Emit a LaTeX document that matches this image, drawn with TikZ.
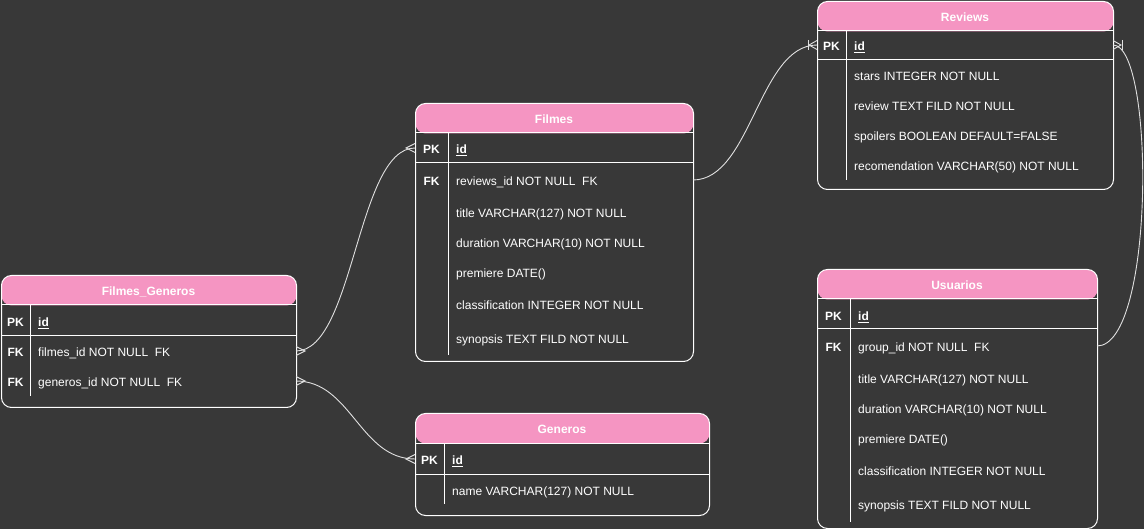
\documentclass[tikz,border=0pt]{standalone}
\usepackage{fontspec}
\setmainfont{Liberation Sans}
\usetikzlibrary{calc}
\definecolor{bg}{HTML}{383838}
\definecolor{hdr}{HTML}{F595C2}
\tikzset{
  tbl/.style={draw=white, line width=1pt, rounded corners=10pt, fill=bg, inner sep=0pt, anchor=north west,
    path picture={\fill[hdr] (path picture bounding box.north west) rectangle ([yshift=-30pt]path picture bounding box.north east);}},
  grid/.style={draw=white, line width=1pt},
  hd/.style={text=white, font=\fontsize{12}{14}\selectfont\bfseries, anchor=base, inner sep=0pt, yshift=-1pt},
  keylbl/.style={text=white, font=\fontsize{12}{14}\selectfont\bfseries, anchor=base, inner sep=0pt, yshift=-1pt},
  fld/.style={text=white, font=\fontsize{12}{14}\selectfont, anchor=base west, inner sep=0pt, yshift=-1pt},
  conn/.style={draw=white!88!black, line width=0.9pt},
  pics/crowL/.style={code={\draw[conn] (0,-4.5) -- (-9,0) -- (0,4.5);}},
  pics/crowR/.style={code={\draw[conn] (0,-4.5) -- (9,0) -- (0,4.5);}},
  pics/crowbarL/.style={code={\draw[conn] (0,-4.5) -- (-8,0) -- (0,4.5); \draw[conn] (-9,-5) -- (-9,5);}},
  pics/crowbarR/.style={code={\draw[conn] (0,-4.5) -- (8,0) -- (0,4.5); \draw[conn] (9,-5) -- (9,5);}},
}
\begin{document}
\begin{tikzpicture}[x=1pt,y=-1pt]
\fill[bg] (0,0) rectangle (1144,529);
\useasboundingbox (0,0) rectangle (1144,529);

% ---------- Filmes ----------
\node[tbl, minimum width=278pt, minimum height=258pt] (filmes) at (415,103) {};
\draw[grid] (415,133) -- (693,133) (415,163) -- (693,163) (448,133) -- (448,355);
\node[hd] (f-h) at (554,122.5) {Filmes};
\node[keylbl] (f-k1) at (431.5,152.5) {PK};
\node[keylbl] (f-k2) at (431.5,184.5) {FK};
\node[fld] (f-1) at (456,152.5) {\bfseries\underline{id}};
\node[fld] (f-2) at (456,184.5) {reviews\_id NOT NULL\ \ FK};
\node[fld] (f-3) at (456,216.5) {title VARCHAR(127) NOT NULL};
\node[fld] (f-4) at (456,246.5) {duration VARCHAR(10) NOT NULL};
\node[fld] (f-5) at (456,276.5) {premiere DATE()};
\node[fld] (f-6) at (456,308.5) {classification INTEGER NOT NULL};
\node[fld] (f-7) at (456,342.5) {synopsis TEXT FILD NOT NULL};

% ---------- Reviews ----------
\node[tbl, minimum width=296pt, minimum height=188pt] (reviews) at (817,1) {};
\draw[grid] (817,31) -- (1113,31) (817,60) -- (1113,60) (846,31) -- (846,180);
\node[hd] (r-h) at (965,20.5) {Reviews};
\node[keylbl] (r-k1) at (831.5,49.5) {PK};
\node[fld] (r-1) at (854,49.5) {\bfseries\underline{id}};
\node[fld] (r-2) at (854,79.5) {stars INTEGER NOT NULL};
\node[fld] (r-3) at (854,109.5) {review TEXT FILD NOT NULL};
\node[fld] (r-4) at (854,139.5) {spoilers BOOLEAN DEFAULT=FALSE};
\node[fld] (r-5) at (854,169.5) {recomendation VARCHAR(50) NOT NULL};

% ---------- Filmes_Generos ----------
\node[tbl, minimum width=295pt, minimum height=132pt] (fg) at (1,275) {};
\draw[grid] (1,305) -- (296,305) (1,336) -- (296,336) (30,305) -- (30,396);
\node[hd] (fg-h) at (148.5,294.5) {Filmes\_Generos};
\node[keylbl] (fg-k1) at (15.5,325.5) {PK};
\node[keylbl] (fg-k2) at (15.5,355.5) {FK};
\node[keylbl] (fg-k3) at (15.5,385.5) {FK};
\node[fld] (fg-1) at (38,325.5) {\bfseries\underline{id}};
\node[fld] (fg-2) at (38,355.5) {filmes\_id NOT NULL\ \ FK};
\node[fld] (fg-3) at (38,385.5) {generos\_id NOT NULL\ \ FK};

% ---------- Generos ----------
\node[tbl, minimum width=294pt, minimum height=102pt] (generos) at (415,413) {};
\draw[grid] (415,443) -- (709,443) (415,474) -- (709,474) (444,443) -- (444,504);
\node[hd] (g-h) at (562,432.5) {Generos};
\node[keylbl] (g-k1) at (429.5,463.5) {PK};
\node[fld] (g-1) at (452,463.5) {\bfseries\underline{id}};
\node[fld] (g-2) at (452,494.5) {name VARCHAR(127) NOT NULL};

% ---------- Usuarios ----------
\node[tbl, minimum width=280pt, minimum height=259pt] (usuarios) at (817,269) {};
\draw[grid] (817,299) -- (1097,299) (817,329) -- (1097,329) (850,299) -- (850,522);
\node[hd] (u-h) at (957,288.5) {Usuarios};
\node[keylbl] (u-k1) at (833.5,319.5) {PK};
\node[keylbl] (u-k2) at (833.5,350.5) {FK};
\node[fld] (u-1) at (858,319.5) {\bfseries\underline{id}};
\node[fld] (u-2) at (858,350.5) {group\_id NOT NULL\ \ FK};
\node[fld] (u-3) at (858,382.5) {title VARCHAR(127) NOT NULL};
\node[fld] (u-4) at (858,412.5) {duration VARCHAR(10) NOT NULL};
\node[fld] (u-5) at (858,442.5) {premiere DATE()};
\node[fld] (u-6) at (858,474.5) {classification INTEGER NOT NULL};
\node[fld] (u-7) at (858,508.5) {synopsis TEXT FILD NOT NULL};

% ---------- connector end points ----------
\coordinate (fg-filmes) at (296,351);
\coordinate (fg-generos) at (296,381);
\coordinate (f-pk) at (415,148);
\coordinate (g-pk) at (415,459);
\coordinate (f-rev) at (693,180);
\coordinate (r-pk-l) at (817,45);
\coordinate (r-pk-r) at (1113,45);
\coordinate (u-grp) at (1097,346);

% ---------- connectors ----------
\draw[conn] (fg-filmes) .. controls ($(fg-filmes)+(58,0)$) and ($(f-pk)+(-58,0)$) .. (f-pk);
\draw[conn] (fg-generos) .. controls ($(fg-generos)+(55,0)$) and ($(g-pk)+(-55,0)$) .. (g-pk);
\draw[conn] (f-rev) .. controls ($(f-rev)+(58,0)$) and ($(r-pk-l)+(-58,0)$) .. (r-pk-l);
\draw[conn] (r-pk-r) .. controls ($(r-pk-r)+(42,0)$) and ($(u-grp)+(58,0)$) .. (u-grp);

\pic at (fg-filmes) {crowR};
\pic at (fg-generos) {crowR};
\pic at (f-pk) {crowL};
\pic at (g-pk) {crowL};
\pic at (r-pk-l) {crowbarL};
\pic at (r-pk-r) {crowbarR};
\end{tikzpicture}
\end{document}
